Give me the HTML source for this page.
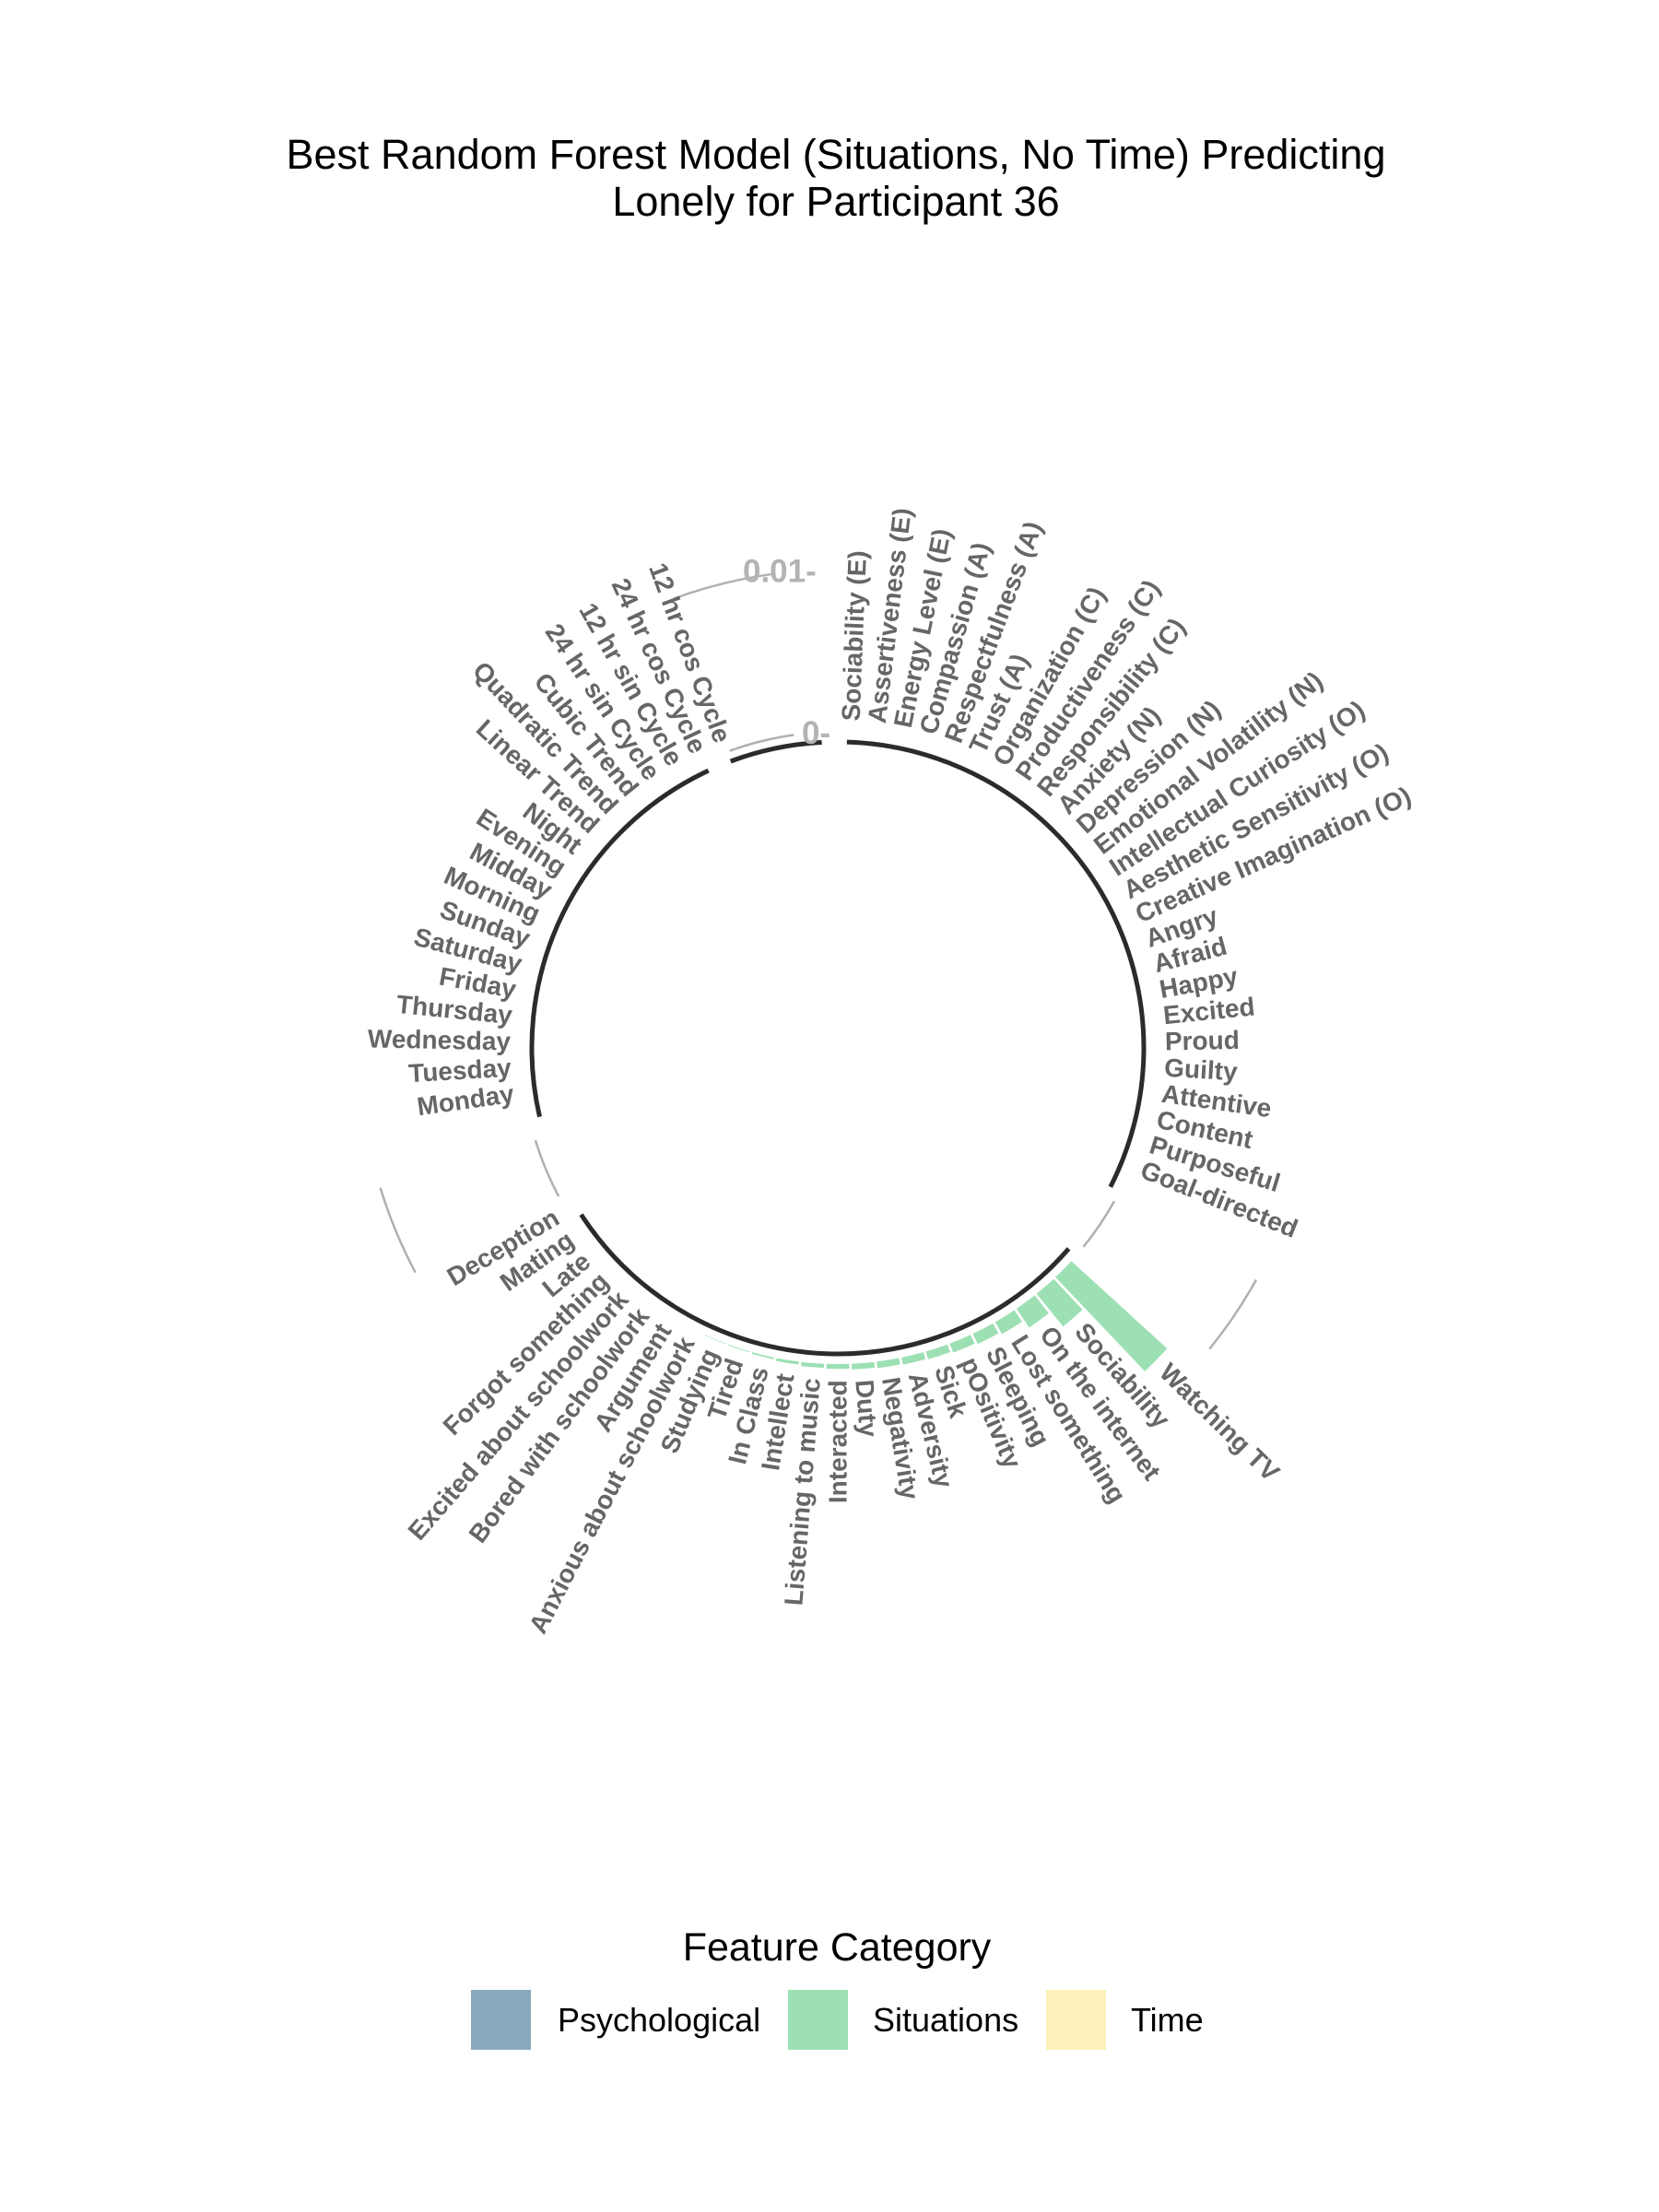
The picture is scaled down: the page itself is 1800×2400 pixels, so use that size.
<!DOCTYPE html>
<html><head><meta charset="utf-8"><style>
html,body{margin:0;padding:0;background:#fff;}
svg{display:block;}
text{font-family:"Liberation Sans",Arial,sans-serif;}
</style></head><body>
<svg id="chart" width="1800" height="2400" viewBox="0 0 1800 2400" xmlns="http://www.w3.org/2000/svg">
<rect width="1800" height="2400" fill="#fff"/>
<text x="907" y="183" text-anchor="middle" font-size="45" fill="#000">Best Random Forest Model (Situations, No Time) Predicting</text>
<text x="907" y="234" text-anchor="middle" font-size="45" fill="#000">Lonely for Participant 36</text>
<g id="plot"></g>
<g>
<text x="908" y="2127" text-anchor="middle" font-size="43" fill="#000">Feature Category</text>
<rect x="511" y="2159" width="65" height="65" fill="#87a9bb"/>
<text x="605" y="2204" font-size="36" fill="#000">Psychological</text>
<rect x="855" y="2159" width="65" height="65" fill="#9de0b4"/>
<text x="947" y="2204" font-size="36" fill="#000">Situations</text>
<rect x="1135" y="2159" width="65" height="65" fill="#fdf1b9"/>
<text x="1227" y="2204" font-size="36" fill="#000">Time</text>
</g>
</svg>
<script>
const psychNames = ["Sociability (E)","Assertiveness (E)","Energy Level (E)","Compassion (A)","Respectfulness (A)","Trust (A)","Organization (C)","Productiveness (C)","Responsibility (C)","Anxiety (N)","Depression (N)","Emotional Volatility (N)","Intellectual Curiosity (O)","Aesthetic Sensitivity (O)","Creative Imagination (O)","Angry","Afraid","Happy","Excited","Proud","Guilty","Attentive","Content","Purposeful","Goal-directed"];
const psychValues = [0,0,0,0,0,0,0,0,0,0,0,0,0,0,0,0,0,0,0,0,0,0,0,0,0];
const sitNames = ["Watching TV","Sociability","On the internet","Lost something","Sleeping","pOsitivity","Sick","Adversity","Negativity","Duty","Interacted","Listening to music","Intellect","In Class","Tired","Studying","Anxious about schoolwork","Argument","Bored with schoolwork","Excited about schoolwork","Forgot something","Late","Mating","Deception"];
const sitValues = [0.0080,0.0026,0.0014,0.00085,0.0007,0.0006,0.0005,0.00045,0.0004,0.00035,0.0003,0.00025,0.00018,0.0001,0.00005,0.00003,0,0,0,0,0,0,0,0];
const timeNames = ["Monday","Tuesday","Wednesday","Thursday","Friday","Saturday","Sunday","Morning","Midday","Evening","Night","Linear Trend","Quadratic Trend","Cubic Trend","24 hr sin Cycle","12 hr sin Cycle","24 hr cos Cycle","12 hr cos Cycle"];
const timeValues = [0,0,0,0,0,0,0,0,0,0,0,0,0,0,0,0,0,0];
const yTicks = [0, 0.01];
const yTickLabels = ["0","0.01"];

const NS="http://www.w3.org/2000/svg";
const plot=document.getElementById('plot');
const CX=909, CY=1137, R0=343, K=17600, GAP=4;
const groups=[{names:psychNames,vals:psychValues,color:"#87a9bb"},{names:sitNames,vals:sitValues,color:"#9de0b4"},{names:timeNames,vals:timeValues,color:"#fdf1b9"}];
const N=psychNames.length+sitNames.length+timeNames.length+GAP*3;
const STEP=360/N;
function rScale(v){return R0+v*K;}
function pt(r,a){const t=a*Math.PI/180;return [CX+r*Math.sin(t),CY-r*Math.cos(t)];}
function mk(tag,attrs){const e=document.createElementNS(NS,tag);for(const k in attrs)e.setAttribute(k,attrs[k]);return e;}
function arcPath(r,a1,a2){const p1=pt(r,a1),p2=pt(r,a2);const large=(a2-a1)>180?1:0;return `M${p1[0]},${p1[1]} A${r},${r} 0 ${large} 1 ${p2[0]},${p2[1]}`;}

const gapArcs=[[119,129],[242,253],[340,352]];
gapArcs.forEach((g,gi)=>{yTicks.forEach((t,ti)=>{
  const p=mk('path',{d:arcPath(rScale(t),g[0],g[1]),fill:'none',stroke:'#b0b0b0','stroke-width':2.5});
  
  
  plot.appendChild(p);
});});
const baseArcs=[[1.7,117],[131,237],[257,335],[339.5,357]];
baseArcs.forEach((g,gi)=>{
  const p=mk('path',{d:arcPath(332,g[0],g[1]),fill:'none',stroke:'#2b2b2b','stroke-width':5});
  
  
  plot.appendChild(p);
});
yTicks.forEach((t,i)=>{
  const p=pt(rScale(t),355);
  const tx=mk('text',{x:p[0]+22,y:p[1],'text-anchor':'end','dominant-baseline':'central','font-size':35,'font-weight':'bold',fill:'#b3b3b3'});
  tx.textContent=yTickLabels[i]+"-";
  
  
  plot.appendChild(tx);
});
let slot=0;
groups.forEach(g=>{
  g.names.forEach((name,i)=>{
    const v=g.vals[i];
    const ac=(slot+0.5)*STEP, a1=ac-STEP*0.45, a2=ac+STEP*0.45;
    const ro=rScale(v);
    if(v>0){
      const p1=pt(R0,a1),p2=pt(ro,a1),p3=pt(ro,a2),p4=pt(R0,a2);
      const bar=mk('path',{d:`M${p1[0]},${p1[1]} L${p2[0]},${p2[1]} A${ro},${ro} 0 0 1 ${p3[0]},${p3[1]} L${p4[0]},${p4[1]} A${R0},${R0} 0 0 0 ${p1[0]},${p1[1]} Z`,fill:g.color});
      
      
      plot.appendChild(bar);
    }
    const lp=pt(ro+12,ac);
    const flip=ac>=180;
    const rot=flip?ac+90:ac-90;
    const tx=mk('text',{x:lp[0],y:lp[1],'text-anchor':flip?'end':'start','dominant-baseline':'central','font-size':28,'font-weight':'bold',fill:'#666',transform:`rotate(${rot} ${lp[0]} ${lp[1]})`});
    tx.textContent=name;
    
    
    plot.appendChild(tx);
    slot++;
  });
  slot+=GAP;
});
</script>
</body></html>
